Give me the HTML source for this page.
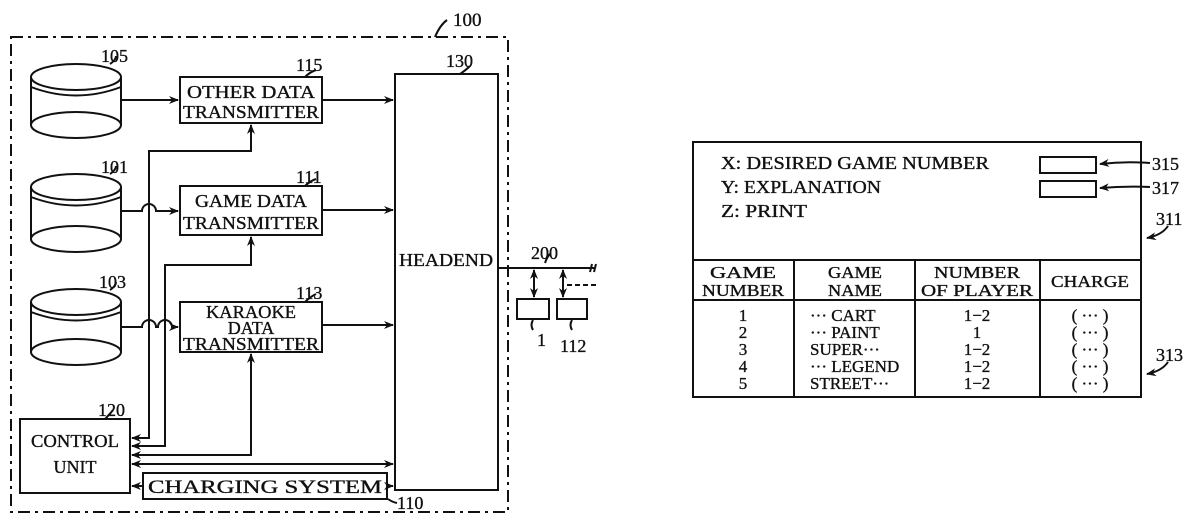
<!DOCTYPE html>
<html><head><meta charset="utf-8"><style>
html,body{margin:0;padding:0;background:#fff;}
svg{display:block;}
text{font-family:"Liberation Serif",serif;fill:#111;stroke:#111;stroke-width:0.35;}
</style></head><body>
<svg width="1200" height="526" viewBox="0 0 1200 526" xmlns="http://www.w3.org/2000/svg">
<defs>
<marker id="a" markerWidth="10" markerHeight="8" refX="9" refY="4" orient="auto-start-reverse" markerUnits="userSpaceOnUse">
<path d="M0,0 L10,4 L0,8 L3,4 Z" fill="#111"/></marker>
</defs>
<g stroke="#111" stroke-width="2" fill="none">
<rect x="11" y="37" width="497" height="475" stroke-dasharray="12,5,3,5"/>
<path d="M435,37 Q440,25 447,20"/>
<g>
<ellipse cx="76" cy="77" rx="45" ry="13"/><path d="M31,77 V125 M121,77 V125"/><ellipse cx="76" cy="125" rx="45" ry="13"/><path d="M31,87 Q76,104 121,87"/>
</g>
<g>
<ellipse cx="76" cy="187" rx="45" ry="13"/><path d="M31,187 V239 M121,187 V239"/><ellipse cx="76" cy="239" rx="45" ry="13"/><path d="M31,197 Q76,214 121,197"/>
</g>
<g>
<ellipse cx="76" cy="302" rx="45" ry="13"/><path d="M31,302 V352 M121,302 V352"/><ellipse cx="76" cy="352" rx="45" ry="13"/><path d="M31,312 Q76,329 121,312"/>
</g>
<rect x="180" y="77" width="142" height="46"/>
<rect x="180" y="186" width="142" height="49"/>
<rect x="180" y="302" width="142" height="50"/>
<rect x="395" y="74" width="103" height="416"/>
<rect x="20" y="419" width="110" height="74"/>
<rect x="143" y="473" width="244" height="26"/>
<path d="M121,100 H178" marker-end="url(#a)"/>
<path d="M121,211 H142 A7,7 0 0 1 156,211 H178" marker-end="url(#a)"/>
<path d="M121,327 H142 A7,7 0 0 1 156,327 H158 A7,7 0 0 1 172,327 H178" marker-end="url(#a)"/>
<path d="M322,100 H393" marker-end="url(#a)"/>
<path d="M322,210 H393" marker-end="url(#a)"/>
<path d="M322,325 H393" marker-end="url(#a)"/>
<path d="M251,125 V151 H149 V438 H132" marker-start="url(#a)" marker-end="url(#a)"/>
<path d="M251,237 V265 H165 V446 H132" marker-start="url(#a)" marker-end="url(#a)"/>
<path d="M251,354 V455 H132" marker-start="url(#a)" marker-end="url(#a)"/>
<path d="M132,464 H393" marker-start="url(#a)" marker-end="url(#a)"/>
<path d="M143,486 H132" marker-end="url(#a)"/>
<path d="M387,486 H393" marker-end="url(#a)"/>
<path d="M388,499 Q392,502 397,503"/>
<path d="M498,268 H595 M592,264 L590,272 M596,264 L594,272"/>
<path d="M534,270 V297" marker-start="url(#a)" marker-end="url(#a)"/>
<path d="M563,270 V297" marker-start="url(#a)" marker-end="url(#a)"/>
<path d="M567,285 H598" stroke-dasharray="5,3"/>
<rect x="517" y="299" width="32" height="20"/>
<rect x="557" y="299" width="30" height="20"/>
<path d="M545,263 Q547,257 550,254"/>
<path d="M533,320 Q530,325 533,330"/>
<path d="M572,320 Q569,325 572,330"/>
<path d="M110,64 Q116,60 116,56"/><path d="M110,174 Q116,170 116,166"/><path d="M110,290 Q116,286 116,282"/>
<path d="M305,77 Q310,72 316,70"/><path d="M305,186 Q310,181 316,179"/><path d="M305,302 Q310,297 316,294"/>
<path d="M460,74 Q466,70 470,66"/><path d="M105,419 Q110,414 113,410"/>
<rect x="693" y="142" width="448" height="255"/>
<path d="M693,260 H1141 M693,300 H1141 M794,260 V397 M915,260 V397 M1040,260 V397"/>
<rect x="1040" y="157" width="56" height="16"/>
<rect x="1040" y="181" width="56" height="16"/>
<path d="M1150,163 Q1125,161 1100,164" marker-end="url(#a)"/>
<path d="M1150,187 Q1125,186 1100,188" marker-end="url(#a)"/>
<path d="M1168,226 Q1162,235 1147,238" marker-end="url(#a)"/>
<path d="M1168,362 Q1162,371 1147,374" marker-end="url(#a)"/>
</g>
<g font-size="18">
<text x="453" y="26" font-size="19">100</text>
<text x="101" y="62">105</text>
<text x="101" y="173">101</text>
<text x="99" y="288">103</text>
<text x="296" y="71">115</text>
<text x="296" y="183">111</text>
<text x="296" y="299">113</text>
<text x="446" y="67">130</text>
<text x="98" y="416">120</text>
<text x="397" y="509">110</text>
<text x="531" y="259">200</text>
<text x="537" y="346">1</text>
<text x="560" y="352">112</text>
<g text-anchor="middle" font-size="18">
<text x="251" y="98" textLength="128" lengthAdjust="spacingAndGlyphs">OTHER DATA</text><text x="251" y="118" textLength="136" lengthAdjust="spacingAndGlyphs">TRANSMITTER</text>
<text x="251" y="207" textLength="112" lengthAdjust="spacingAndGlyphs">GAME DATA</text><text x="251" y="229" textLength="136" lengthAdjust="spacingAndGlyphs">TRANSMITTER</text>
<text x="251" y="318" textLength="90" lengthAdjust="spacingAndGlyphs">KARAOKE</text><text x="251" y="334">DATA</text><text x="251" y="350" textLength="136" lengthAdjust="spacingAndGlyphs">TRANSMITTER</text>
<text x="446" y="266" textLength="94" lengthAdjust="spacingAndGlyphs">HEADEND</text>
<text x="75" y="447" textLength="88" lengthAdjust="spacingAndGlyphs">CONTROL</text><text x="75" y="473">UNIT</text>
<text x="265" y="493" font-size="19" textLength="234" lengthAdjust="spacingAndGlyphs">CHARGING SYSTEM</text>
</g>
<g font-size="18">
<text x="721" y="169" textLength="268" lengthAdjust="spacingAndGlyphs">X: DESIRED GAME NUMBER</text>
<text x="721" y="193" textLength="160" lengthAdjust="spacingAndGlyphs">Y: EXPLANATION</text>
<text x="721" y="217" textLength="86" lengthAdjust="spacingAndGlyphs">Z: PRINT</text>
<text x="1152" y="170">315</text>
<text x="1152" y="194">317</text>
<text x="1156" y="225">311</text>
<text x="1156" y="361">313</text>
</g>
<g text-anchor="middle" font-size="17">
<text x="743" y="278" textLength="66" lengthAdjust="spacingAndGlyphs">GAME</text><text x="743" y="296" textLength="82" lengthAdjust="spacingAndGlyphs">NUMBER</text>
<text x="855" y="278" textLength="54" lengthAdjust="spacingAndGlyphs">GAME</text><text x="855" y="296" textLength="54" lengthAdjust="spacingAndGlyphs">NAME</text>
<text x="977" y="278" textLength="86" lengthAdjust="spacingAndGlyphs">NUMBER</text><text x="977" y="296" textLength="112" lengthAdjust="spacingAndGlyphs">OF PLAYER</text>
<text x="1090" y="287" textLength="78" lengthAdjust="spacingAndGlyphs">CHARGE</text>
<text x="743" y="321">1</text><text x="743" y="338">2</text><text x="743" y="355">3</text><text x="743" y="372">4</text><text x="743" y="389">5</text>
<text x="977" y="321">1−2</text><text x="977" y="338">1</text><text x="977" y="355">1−2</text><text x="977" y="372">1−2</text><text x="977" y="389">1−2</text>
<text x="1090" y="321">( ··· )</text><text x="1090" y="338">( ··· )</text><text x="1090" y="355">( ··· )</text><text x="1090" y="372">( ··· )</text><text x="1090" y="389">( ··· )</text>
</g>
<g font-size="17">
<text x="810" y="321">··· CART</text><text x="810" y="338">··· PAINT</text><text x="810" y="355">SUPER···</text><text x="810" y="372">··· LEGEND</text><text x="810" y="389">STREET···</text>
</g>
</g>
</svg>
</body></html>
